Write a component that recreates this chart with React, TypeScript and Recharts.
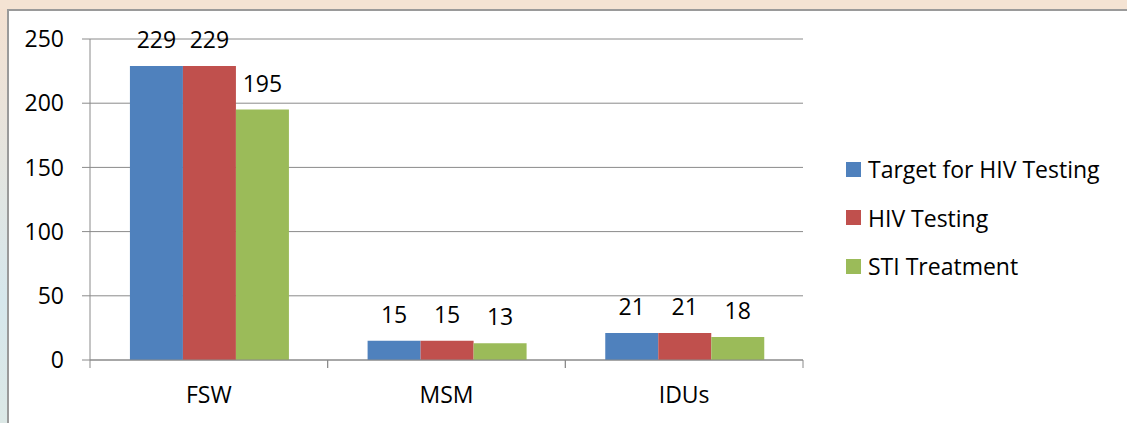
import React from 'react';
import { BarChart, Bar, XAxis, YAxis, CartesianGrid, LabelList } from 'recharts';

const categories = ['FSW', 'MSM', 'IDUs'];
const targetForHivTesting = [229, 15, 21];
const hivTesting = [229, 15, 21];
const stiTreatment = [195, 13, 18];
const yTicks = [0, 50, 100, 150, 200, 250];

const seriesNames = ['Target for HIV Testing', 'HIV Testing', 'STI Treatment'];
const seriesKeys = ['target', 'testing', 'sti'];
const seriesColors = ['#4F81BD', '#C0504D', '#9BBB59'];

const data = categories.map((name, i) => ({
  name,
  target: targetForHivTesting[i],
  testing: hivTesting[i],
  sti: stiTreatment[i],
}));

const axisGray = '#8a8a8a';
const font = '"Open Sans", "Noto Sans", sans-serif';
const fontSize = 23;

function CategoryTick(props: any) {
  const { x, y, payload } = props;
  const half = payload?.offset ?? 0;
  return (
    <g>
      <line x1={x - half} x2={x - half} y1={y} y2={y + 8} stroke={axisGray} />
      <line x1={x + half} x2={x + half} y1={y} y2={y + 8} stroke={axisGray} />
      <text x={x} y={y + 43} textAnchor="middle" fontSize={fontSize} fill="#000" fontFamily={font}>
        {payload.value}
      </text>
    </g>
  );
}

export default function App() {
  return (
    <div style={{ position: 'absolute', left: 0, top: 0, width: 1127, height: 423, background: '#F4E3D3', overflow: 'hidden' }}>
      <div
        style={{
          position: 'absolute',
          left: 0,
          top: 9,
          width: 8,
          height: 414,
          background: 'linear-gradient(to bottom, #F4E1D1, #D6E7EC 70%, #DCE8E6)',
        }}
      />
      <div
        style={{
          position: 'absolute',
          left: 7,
          top: 9,
          right: 0,
          bottom: 0,
          background: '#fff',
          borderLeft: '2px solid #9a9a9a',
          borderTop: '2px solid #9a9a9a',
        }}
      />
      <div style={{ position: 'absolute', left: 0, top: 0 }}>
        <BarChart
          width={1127}
          height={423}
          data={data}
          margin={{ top: 39, right: 324, bottom: 23, left: 0 }}
          barGap={0}
          barCategoryGap="16.8%"
          style={{ fontFamily: font }}
        >
          <CartesianGrid vertical={false} stroke={axisGray} />
          <XAxis
            dataKey="name"
            height={40}
            tickSize={0}
            tickMargin={0}
            tickLine={false}
            axisLine={{ stroke: axisGray }}
            tick={<CategoryTick />}
            interval={0}
          />
          <YAxis
            width={90}
            domain={[0, 250]}
            ticks={yTicks}
            tickSize={8}
            tickMargin={18}
            tickLine={{ stroke: axisGray }}
            axisLine={{ stroke: axisGray }}
            tick={{ fontSize, fill: '#000', fontFamily: font }}
          />
          {seriesKeys.map((key, i) => (
            <Bar key={key} dataKey={key} name={seriesNames[i]} fill={seriesColors[i]} isAnimationActive={false}>
              <LabelList dataKey={key} position="top" offset={18} fontSize={fontSize} fill="#000" fontFamily={font} />
            </Bar>
          ))}
        </BarChart>
      </div>
      {seriesNames.map((name, i) => (
        <div
          key={name}
          style={{
            position: 'absolute',
            left: 846,
            top: 145 + i * 48.5,
            height: 48,
            display: 'flex',
            alignItems: 'center',
            fontFamily: font,
            fontSize,
            color: '#000',
            whiteSpace: 'nowrap',
          }}
        >
          <span style={{ display: 'inline-block', width: 15, height: 15, background: seriesColors[i], marginRight: 7 }} />
          {name}
        </div>
      ))}
    </div>
  );
}
